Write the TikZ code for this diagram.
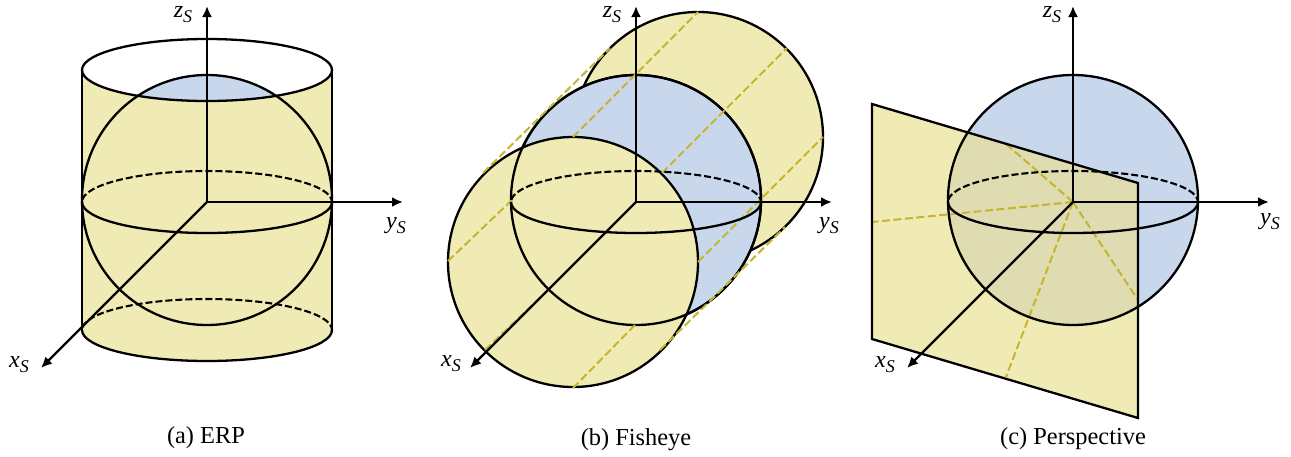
\documentclass[tikz,border=0pt]{standalone}
\usepackage{fontspec}
\setmainfont{Liberation Serif}
\usetikzlibrary{arrows.meta}
\definecolor{yel}{HTML}{F0EBB4}
\definecolor{blu}{HTML}{C8D7EC}
\definecolor{mix}{HTML}{DEDCB0}
\definecolor{dsh}{HTML}{C6B42F}
\tikzset{
 outl/.style={draw=black,line width=2.3pt},
 eqdash/.style={draw=black,line width=2.1pt,dash pattern=on 7pt off 3pt},
 ylw/.style={draw=dsh,line width=2pt,dash pattern=on 8pt off 3.5pt},
 axis/.style={draw=black,line width=2.2pt,-{Latex[length=11pt,width=10pt]}},
 lab/.style={font=\fontsize{24}{26}\selectfont\itshape,inner sep=0pt},
 captxt/.style={font=\fontsize{24.4}{28}\selectfont,inner sep=0pt}
}
\newcommand{\subS}{\raisebox{-5pt}{\fontsize{18}{18}\selectfont S}}
\newcommand{\eqhalves}[1]{%
 \begin{scope}
 \clip (#1)++(-130,-40) rectangle ++(260,40);
 \draw[eqdash] (#1) ellipse [x radius=125,y radius=31];
 \end{scope}
 \begin{scope}
 \clip (#1)++(-130,0) rectangle ++(260,40);
 \draw[outl] (#1) ellipse [x radius=125,y radius=31];
 \end{scope}}
\begin{document}
\begin{tikzpicture}[x=1pt,y=-1pt]
\path[use as bounding box,fill=white] (0,0) rectangle (1291,456);
% ---------- (a)
\coordinate (ao) at (207,202);
\coordinate (as) at (207,200);
\coordinate (at) at (207,70);
\coordinate (ab) at (207,330);
\coordinate (az) at (207,6);
\coordinate (ay) at (403,202);
\coordinate (ax) at (41,368);
\fill[yel] (82,70) rectangle (332,330);
\fill[yel] (ab) ellipse [x radius=125,y radius=31];
\fill[white] (at) ellipse [x radius=125,y radius=31];
\begin{scope}
 \clip (at) ellipse [x radius=125,y radius=31];
 \fill[blu] (as) circle (125);
\end{scope}
\draw[outl] (at) ellipse [x radius=125,y radius=31];
\draw[outl] (82,70) -- (82,330);
\draw[outl] (332,70) -- (332,330);
\draw[outl] (as) circle (125);
\eqhalves{ao}
\eqhalves{ab}
\draw[axis] (ao) -- (az);
\draw[axis] (ao) -- (ay);
\draw[axis] (ao) -- (ax);
\node[lab] (alz) at (183,15) {z\subS};
\node[lab] (aly) at (396,226) {y\subS};
\node[lab] (alx) at (19,365) {x\subS};
\node[captxt] (acap) at (206,438) {(a) ERP};
% ---------- (b)
\coordinate (bo) at (636,202);
\coordinate (bs) at (636,200);
\coordinate (bb) at (698,137);
\coordinate (bf) at (573,262);
\coordinate (bz) at (636,6);
\coordinate (by) at (832,202);
\coordinate (bx) at (470,368);
\draw[outl,fill=yel] (bb) circle (125);
\draw[outl,fill=blu] (bs) circle (125);
\draw[outl,fill=yel] (bf) circle (125);
\draw[outl] (bs) circle (125);
\foreach \a/\b in {{483,173}/{610,48},{573,137}/{698,12},{662,173}/{787,48},{698,262}/{823,137},{660,350}/{785,227},{635,325}/{573,388},{485,350}/{548,290},{512,200}/{447,262}}
 \draw[ylw] (\a) -- (\b);
\eqhalves{bo}
\draw[axis] (bo) -- (bz);
\draw[axis] (bo) -- (by);
\draw[axis] (bo) -- (bx);
\node[lab] (blz) at (612,15) {z\subS};
\node[lab] (bly) at (829,226) {y\subS};
\node[lab] (blx) at (451,364) {x\subS};
\node[captxt] (bcap) at (636,440) {(b) Fisheye};
% ---------- (c)
\coordinate (co) at (1073,202);
\coordinate (cs) at (1073,200);
\coordinate (cz) at (1073,6);
\coordinate (cy) at (1269,202);
\coordinate (cx) at (907,368);
\coordinate (p1) at (872,104);
\coordinate (p2) at (1138,183);
\coordinate (p3) at (1138,418);
\coordinate (p4) at (872,339);
\fill[blu] (cs) circle (125);
\fill[yel] (p1) -- (p2) -- (p3) -- (p4) -- cycle;
\begin{scope}
 \clip (cs) circle (125);
 \fill[mix] (p1) -- (p2) -- (p3) -- (p4) -- cycle;
\end{scope}
\draw[ylw] (co) -- (872,222);
\draw[ylw] (co) -- (1006,144);
\draw[ylw] (co) -- (1138,300);
\draw[ylw] (co) -- (1006,377);
\draw[outl] (p1) -- (p2) -- (p3) -- (p4) -- cycle;
\draw[outl] (cs) circle (125);
\eqhalves{co}
\draw[axis] (co) -- (cz);
\draw[axis] (co) -- (cy);
\draw[axis] (co) -- (cx);
\node[lab] (clz) at (1052,15) {z\subS};
\node[lab] (cly) at (1270,222) {y\subS};
\node[lab] (clx) at (885,365) {x\subS};
\node[captxt] (ccap) at (1073,439) {(c) Perspective};
\end{tikzpicture}
\end{document}
